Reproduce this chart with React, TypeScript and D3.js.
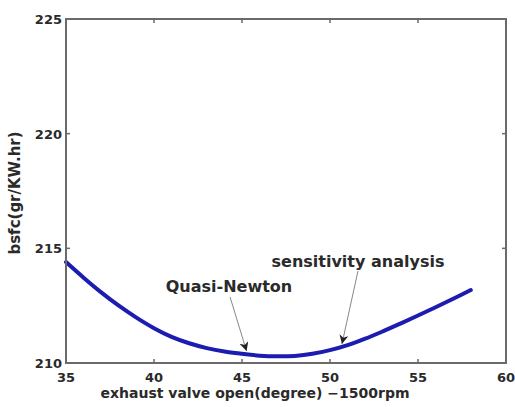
import { useEffect, useRef } from "react";
import * as d3 from "d3";

const W = 515;
const H = 407;

// exhaust valve open angle (degree) and bsfc (gr/KW.hr)
const valveOpen = [35, 36, 37, 38, 39, 40, 41, 42, 43, 44, 45, 46, 47, 48, 49, 50, 51, 52, 53, 54, 55, 56, 57, 58];
const bsfc = [
  214.4, 213.72, 213.08, 212.5, 211.98, 211.52, 211.14, 210.86, 210.65, 210.5, 210.4, 210.32,
  210.29, 210.31, 210.4, 210.56, 210.78, 211.06, 211.38, 211.72, 212.07, 212.43, 212.8, 213.18,
];
const xTicks = [35, 40, 45, 50, 55, 60];
const yTicks = [210, 215, 220, 225];

const notes = [
  { label: "Quasi-Newton", tx: 44.26, ty: 213.11, from: [44.32, 212.88], to: [45.26, 210.52] },
  { label: "sensitivity analysis", tx: 51.59, ty: 214.2, from: [51.59, 214.01], to: [50.68, 210.83] },
];

export default function App() {
  const ref = useRef<SVGSVGElement | null>(null);

  useEffect(() => {
    if (!ref.current) return;
    const svg = d3.select(ref.current);
    svg.selectAll("*").remove();

    const m = { left: 66, right: 9, top: 19, bottom: 44 };
    const x = d3.scaleLinear().domain([35, 60]).range([m.left, W - m.right]);
    const y = d3.scaleLinear().domain([210, 225]).range([H - m.bottom, m.top]);
    const font = "'DejaVu Sans', Verdana, sans-serif";
    const axisColor = "#6a6a6a";
    const ink = "#2a2a2a";

    svg.append("rect").attr("width", W).attr("height", H).attr("fill", "#fff");

    // curve
    const pts = valveOpen.map((v, i) => [v, bsfc[i]] as [number, number]);
    svg
      .append("path")
      .datum(pts)
      .attr("fill", "none")
      .attr("stroke", "#1c1cb0")
      .attr("stroke-width", 4)
      .attr("stroke-linecap", "round")
      .attr(
        "d",
        d3
          .line<[number, number]>()
          .x((d) => x(d[0]))
          .y((d) => y(d[1]))
          .curve(d3.curveCatmullRom)
      );

    // box
    svg
      .append("rect")
      .attr("x", x(35))
      .attr("y", y(225))
      .attr("width", x(60) - x(35))
      .attr("height", y(210) - y(225))
      .attr("fill", "none")
      .attr("stroke", axisColor)
      .attr("stroke-width", 2);

    const tl = 4;
    const g = svg.append("g").attr("stroke", axisColor).attr("stroke-width", 1.5);
    xTicks.slice(1, -1).forEach((t) => {
      g.append("line").attr("x1", x(t)).attr("x2", x(t)).attr("y1", y(210)).attr("y2", y(210) - tl);
      g.append("line").attr("x1", x(t)).attr("x2", x(t)).attr("y1", y(225)).attr("y2", y(225) + tl);
    });
    yTicks.slice(1, -1).forEach((t) => {
      g.append("line").attr("x1", x(35)).attr("x2", x(35) + tl).attr("y1", y(t)).attr("y2", y(t));
      g.append("line").attr("x1", x(60)).attr("x2", x(60) - tl).attr("y1", y(t)).attr("y2", y(t));
    });

    // tick labels
    svg
      .append("g")
      .selectAll("text")
      .data(xTicks)
      .join("text")
      .attr("x", (d) => x(d))
      .attr("y", y(210) + 19)
      .attr("text-anchor", "middle")
      .attr("font-family", font)
      .attr("font-size", 13)
      .attr("font-weight", "bold")
      .attr("fill", ink)
      .text((d) => d);

    svg
      .append("g")
      .selectAll("text")
      .data(yTicks)
      .join("text")
      .attr("x", x(35) - 4)
      .attr("y", (d) => y(d) + 5)
      .attr("text-anchor", "end")
      .attr("font-family", font)
      .attr("font-size", 13)
      .attr("font-weight", "bold")
      .attr("fill", ink)
      .text((d) => d);

    // axis titles
    svg
      .append("text")
      .attr("x", x(45.74))
      .attr("y", 398)
      .attr("text-anchor", "middle")
      .attr("font-family", font)
      .attr("font-size", 14)
      .attr("font-weight", "bold")
      .attr("fill", ink)
      .text("exhaust valve open(degree) \u22121500rpm");

    svg
      .append("text")
      .attr("transform", `translate(20,193) rotate(-90)`)
      .attr("text-anchor", "middle")
      .attr("font-family", font)
      .attr("font-size", 15)
      .attr("font-weight", "bold")
      .attr("fill", ink)
      .text("bsfc(gr/KW.hr)");

    // annotations
    svg
      .append("defs")
      .append("marker")
      .attr("id", "ah")
      .attr("viewBox", "0 0 10 10")
      .attr("refX", 10)
      .attr("refY", 5)
      .attr("markerWidth", 9)
      .attr("markerHeight", 9)
      .attr("markerUnits", "userSpaceOnUse")
      .attr("orient", "auto")
      .append("path")
      .attr("d", "M0,0 L10,5 L0,10 L3,5 Z")
      .attr("fill", "#222");

    notes.forEach((n) => {
      svg
        .append("line")
        .attr("x1", x(n.from[0]))
        .attr("y1", y(n.from[1]))
        .attr("x2", x(n.to[0]))
        .attr("y2", y(n.to[1]))
        .attr("stroke", "#888")
        .attr("stroke-width", 1)
        .attr("marker-end", "url(#ah)");
      svg
        .append("text")
        .attr("x", x(n.tx))
        .attr("y", y(n.ty))
        .attr("text-anchor", "middle")
        .attr("font-family", font)
        .attr("font-size", 16)
        .attr("font-weight", "bold")
        .attr("fill", ink)
        .text(n.label);
    });
  }, []);

  return (
    <svg
      ref={ref}
      width={W}
      height={H}
      style={{ position: "absolute", left: 0, top: 0, display: "block" }}
    />
  );
}
